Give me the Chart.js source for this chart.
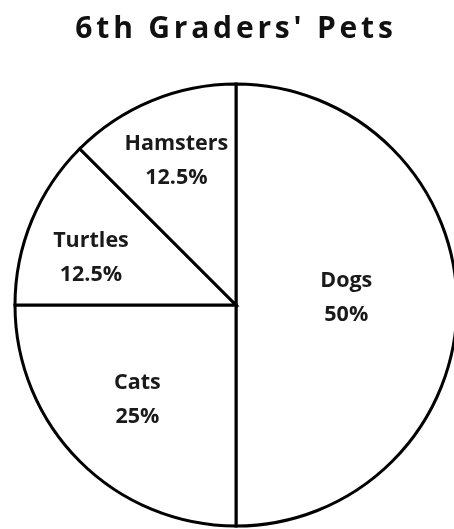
<!DOCTYPE html>
<html>
<head>
<meta charset="utf-8">
<script src="https://cdn.jsdelivr.net/npm/chart.js@4"></script>
<style>
  html, body { margin: 0; padding: 0; background: #fff; overflow: hidden; width: 454px; height: 529px; }
  #wrap { position: absolute; left: 0; top: 0; width: 472px; height: 554px; }
</style>
</head>
<body>
<div id="wrap"><canvas id="c" width="472" height="554"></canvas></div>
<script>
const categories = ["Dogs", "Cats", "Turtles", "Hamsters"];
const percents = [50, 25, 12.5, 12.5];
const chartTitle = "6th Graders' Pets";

const sliceLabels = {
  id: 'sliceLabels',
  beforeDraw(chart) { chart.ctx.letterSpacing = '3.8px'; },
  beforeDatasetsDraw(chart) { chart.ctx.letterSpacing = '0px'; },
  afterDatasetsDraw(chart, args, opts) {
    const ctx = chart.ctx;
    const meta = chart.getDatasetMeta(0);
    ctx.save();
    ctx.letterSpacing = '0px';
    ctx.fillStyle = '#1a1a1a';
    ctx.font = opts.font;
    ctx.textAlign = 'center';
    ctx.textBaseline = 'middle';
    meta.data.forEach((arc, i) => {
      const p = arc.getProps(['x', 'y', 'startAngle', 'endAngle', 'outerRadius'], true);
      const mid = (p.startAngle + p.endAngle) / 2 + opts.angleShift[i] * Math.PI / 180;
      const r = p.outerRadius * opts.radial[i];
      const cx = p.x + Math.cos(mid) * r;
      const cy = p.y + Math.sin(mid) * r;
      ctx.fillText(categories[i], cx, cy - opts.gap / 2);
      ctx.fillText(percents[i] + '%', cx, cy + opts.gap / 2);
    });
    ctx.restore();
  }
};

new Chart(document.getElementById('c'), {
  type: 'pie',
  data: {
    labels: categories,
    datasets: [{
      data: percents,
      backgroundColor: '#ffffff',
      borderColor: '#000000',
      borderWidth: 3,
      borderJoinStyle: 'miter',
      radius: 221
    }]
  },
  options: {
    responsive: false,
    animation: false,
    events: [],
    layout: { padding: 0 },
    plugins: {
      legend: { display: false },
      tooltip: { enabled: false },
      title: {
        display: true,
        text: chartTitle,
        color: '#111111',
        font: { family: "'Open Sans'", size: 30, weight: 'bold', lineHeight: 1.2 },
        padding: { top: 11, bottom: 9 }
      },
      sliceLabels: {
        font: "bold 21.5px 'Open Sans'",
        gap: 34,
        radial: [0.5, 0.62, 0.69, 0.705],
        angleShift: [-3.6, 1, -4.5, 0]
      }
    }
  },
  plugins: [sliceLabels]
});
</script>
</body>
</html>
